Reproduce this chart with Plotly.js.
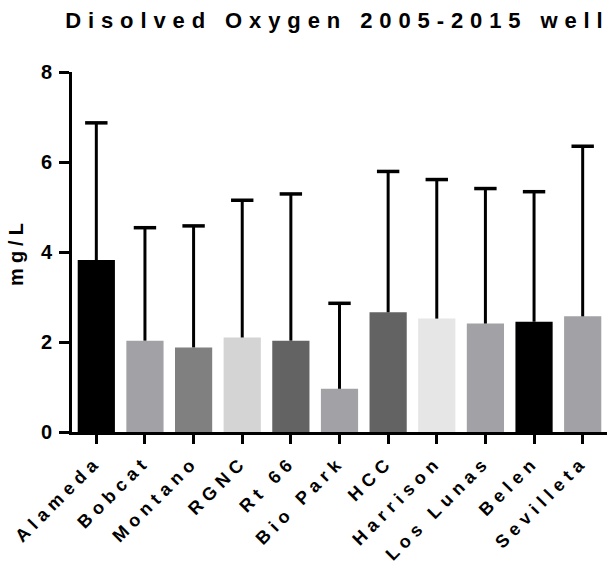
<!DOCTYPE html>
<html>
<head>
<meta charset="utf-8">
<script src="https://cdn.plot.ly/plotly-3.0.1.min.js"></script>
<style>
  html, body { margin: 0; padding: 0; background: #fff; }
  #chart { width: 609px; height: 565px; }
  #chart .gtitle { letter-spacing: 6.9px; }
  #chart .xtick text { letter-spacing: 5.5px; }
  #chart .ytitle { letter-spacing: 5px; }
</style>
</head>
<body>
<div id="chart"></div>
<script>
const categories = ['Alameda', 'Bobcat', 'Montano', 'RGNC', 'Rt 66', 'Bio Park', 'HCC', 'Harrison', 'Los Lunas', 'Belen', 'Sevilleta'];
const means = [3.82, 2.03, 1.88, 2.10, 2.03, 0.96, 2.66, 2.52, 2.41, 2.45, 2.57];
const sds = [3.05, 2.51, 2.70, 3.05, 3.26, 1.90, 3.13, 3.09, 3.00, 2.89, 3.78];
const barColors = ['#000000', '#a2a2a6', '#808080', '#d4d4d4', '#636363', '#a2a2a6', '#636363', '#e6e6e6', '#a2a2a6', '#000000', '#a2a2a6'];
const yTickVals = [0, 2, 4, 6, 8];

const FONT = 'Liberation Sans, Arial, sans-serif';

// error bar stems (upper only) and caps
const stemX = [], stemY = [];
categories.forEach((c, i) => {
  stemX.push(c, c, null);
  stemY.push(means[i], means[i] + sds[i], null);
});
const capY = means.map((m, i) => m + sds[i]);

const traces = [
  {
    type: 'bar',
    x: categories,
    y: means,
    marker: { color: barColors, line: { width: 0 } },
    hoverinfo: 'x+y'
  },
  {
    type: 'scatter',
    mode: 'lines',
    x: stemX,
    y: stemY,
    line: { color: '#000', width: 3 },
    connectgaps: false,
    hoverinfo: 'skip',
    cliponaxis: false
  },
  {
    type: 'scatter',
    mode: 'markers',
    x: categories,
    y: capY,
    marker: { symbol: 'line-ew', size: 16, line: { color: '#000', width: 3.5 } },
    hoverinfo: 'skip',
    cliponaxis: false
  }
];

const layout = {
  width: 609,
  height: 565,
  margin: { l: 72, r: 2, t: 72, b: 133 },
  paper_bgcolor: '#fff',
  plot_bgcolor: '#fff',
  showlegend: false,
  bargap: 0.235,
  font: { family: FONT, color: '#000' },
  title: {
    text: 'Disolved Oxygen 2005-2015 well',
    font: { family: FONT, size: 22, weight: 'bold', color: '#000' },
    x: 0.554,
    xanchor: 'center',
    y: 0.964,
    yanchor: 'middle'
  },
  xaxis: {
    type: 'category',
    range: [-0.5, 10.5],
    showline: true,
    linewidth: 3,
    linecolor: '#000',
    ticks: 'outside',
    ticklen: 9,
    tickwidth: 3,
    tickcolor: '#000',
    tickangle: -45,
    tickfont: { family: FONT, size: 18, weight: 'bold', color: '#000' },
    showgrid: false,
    zeroline: false
  },
  yaxis: {
    range: [0, 8],
    tickvals: yTickVals,
    ticktext: yTickVals.map(String),
    showline: true,
    linewidth: 3,
    linecolor: '#000',
    ticks: 'outside',
    ticklen: 10,
    tickwidth: 3,
    tickcolor: '#000',
    ticklabelstandoff: 3,
    tickfont: { family: FONT, size: 20, weight: 'bold', color: '#000' },
    showgrid: false,
    zeroline: false,
    title: {
      text: 'mg/L',
      font: { family: FONT, size: 20, weight: 'bold', color: '#000' },
      standoff: 12
    }
  }
};

Plotly.newPlot('chart', traces, layout, { displayModeBar: false, staticPlot: true });
</script>
</body>
</html>
